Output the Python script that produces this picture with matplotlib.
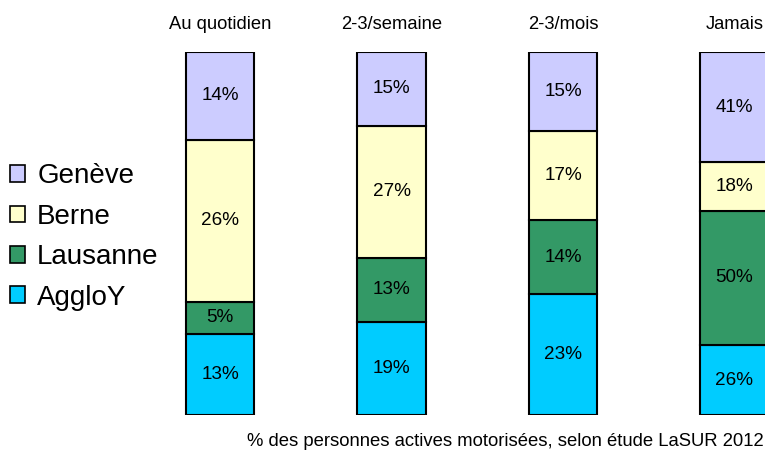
import numpy as np
import matplotlib
matplotlib.use("Agg")
import matplotlib.pyplot as plt
from matplotlib.patches import Patch

plt.rcParams['font.family'] = ['Liberation Sans', 'DejaVu Sans']

# Données (valeurs affichées dans chaque segment)
categories = ['Au quotidien', '2-3/semaine', '2-3/mois', 'Jamais']
series_names = ['AggloY', 'Lausanne', 'Berne', 'Genève']
aggloy = [13, 19, 23, 26]
lausanne = [5, 13, 14, 50]
berne = [26, 27, 17, 18]
geneve = [14, 15, 15, 41]
caption = '% des personnes actives motorisées, selon étude LaSUR 2012'

colors = ['#00CCFF', '#339966', '#FFFFCC', '#CCCCFF']

values = np.array([aggloy, lausanne, berne, geneve], dtype=float)
totals = values.sum(axis=0)
shares = values / totals  # barres empilées à 100 %

fig = plt.figure(figsize=(7.65, 4.5), dpi=100)
ax = fig.add_axes([0, 35 / 450, 1, 363 / 450])

x = np.arange(len(categories))
bottom = np.zeros(len(categories))
for name, share, raw, color in zip(series_names, shares, values, colors):
    ax.bar(x, share, width=0.397, bottom=bottom, color=color,
           edgecolor='black', linewidth=1.5, label=name)
    for xi, b, h, v in zip(x, bottom, share, raw):
        ax.text(xi, b + h / 2, f"{int(v)}%", ha='center', va='center',
                fontsize=13.6, color='black')
    bottom += share

ax.set_xlim(-220 / 171.5, (765 - 220) / 171.5)
ax.set_ylim(0, 1)
for s in ax.spines.values():
    s.set_visible(False)
ax.set_yticks([])
ax.xaxis.tick_top()
ax.set_xticks(x)
ax.set_xticklabels(categories, fontsize=13.2)
ax.tick_params(axis='x', length=0, pad=14)

# Légende (ordre inversé : Genève en haut)
handles = [Patch(facecolor=c, edgecolor='black', linewidth=1.2)
           for c in colors[::-1]]
fig.legend(handles, series_names[::-1], loc='center left',
           bbox_to_anchor=(10 / 765, (450 - 237) / 450), frameon=False,
           fontsize=20, handlelength=0.55, handleheight=0.55,
           handletextpad=0.43, labelspacing=0.52, borderaxespad=0,
           borderpad=0)

fig.text(505 / 765, 4.5 / 450, caption, ha='center', va='baseline',
         fontsize=13.3)

fig.savefig('out.png', dpi=100)
